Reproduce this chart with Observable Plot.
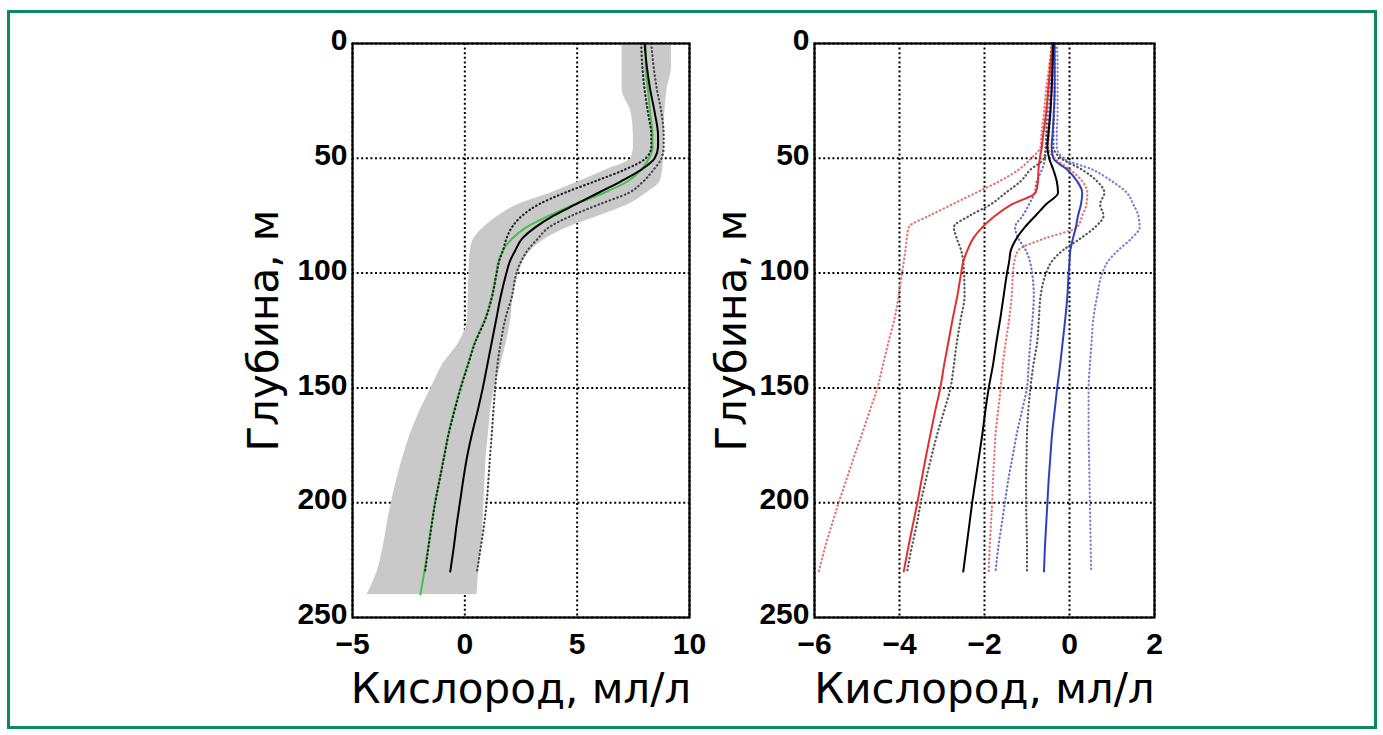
<!DOCTYPE html>
<html>
<head>
<meta charset="utf-8">
<script src="https://cdn.jsdelivr.net/npm/d3@7"></script>
<script src="https://cdn.jsdelivr.net/npm/@observablehq/plot@0.6"></script>
<style>
  html, body { margin: 0; padding: 0; background: #fff; }
  body { width: 1383px; height: 735px; position: relative; overflow: hidden; }
  #border { position: absolute; left: 7px; top: 10px; width: 1364px; height: 713px; border: 3px solid #0b8a61; }
  #left { position: absolute; left: 220px; top: 0; }
  #right { position: absolute; left: 690px; top: 0; }
  svg { overflow: visible; }
</style>
</head>
<body>
<div id="border"></div>
<div id="left"></div>
<div id="right"></div>
<script>
// ---------- shared ----------
const depthTicks = [0, 50, 100, 150, 200, 250];
const yLabel = "Глубина, м";
const xLabel = "Кислород, мл/л";

// ---------- left panel ----------
const leftXTicks = [-5, 0, 5, 10];
const depthL = [0, 10, 20, 30, 40, 45, 50, 55, 60, 65, 70, 75, 80, 85, 90, 95, 100, 110, 120, 130, 140, 150, 160, 170, 180, 190, 200, 210, 220, 230, 240];
const bandLo = [7.0, 7.0, 7.0, 7.4, 7.5, 7.5, 7.4, 6.3, 5.1, 3.85, 2.4, 1.5, 0.85, 0.4, 0.25, 0.2, 0.18, 0.15, 0.12, -0.25, -1.0, -1.5, -2.0, -2.42, -2.75, -3.03, -3.27, -3.47, -3.65, -3.9, -4.35];
const bandHi = [9.2, 9.2, 9.0, 8.9, 8.85, 8.85, 8.85, 8.8, 8.7, 8.1, 7.3, 6.0, 4.6, 3.6, 2.95, 2.6, 2.4, 2.15, 2.05, 1.85, 1.6, 1.32, 1.15, 1.05, 0.95, 0.9, 0.85, 0.8, 0.73, 0.62, 0.54];
const leftMean = [8.0, 8.1, 8.25, 8.45, 8.6, 8.6, 8.45, 7.85, 6.95, 5.95, 4.95, 3.95, 3.15, 2.55, 2.25, 2.0, 1.85, 1.6, 1.4, 1.2, 1.0, 0.8, 0.57, 0.32, 0.1, -0.07, -0.22, -0.37, -0.5, -0.65, null];
const leftGreen = [8.05, 8.05, 8.15, 8.25, 8.35, 8.35, 8.2, 7.85, 7.25, 6.2, 4.9, 3.75, 2.75, 2.1, 1.7, 1.5, 1.4, 1.2, 0.9, 0.45, 0.12, -0.2, -0.48, -0.73, -0.93, -1.13, -1.33, -1.49, -1.64, -1.8, -1.98];
const leftLower = [7.85, 7.9, 8.0, 8.15, 8.3, 8.3, 8.05, 7.1, 5.8, 4.45, 3.3, 2.55, 2.1, 1.85, 1.7, 1.52, 1.42, 1.22, 0.92, 0.47, 0.14, -0.18, -0.46, -0.72, -0.92, -1.12, -1.32, -1.48, -1.63, -1.77, null];
const leftUpper = [8.3, 8.4, 8.55, 8.75, 8.85, 8.85, 8.75, 8.4, 7.95, 7.3, 6.0, 4.75, 3.75, 3.25, 2.8, 2.5, 2.3, 2.1, 1.8, 1.6, 1.45, 1.35, 1.27, 1.2, 1.12, 1.05, 0.97, 0.85, 0.7, 0.54, null];

// ---------- right panel ----------
const rightXTicks = [-6, -4, -2, 0, 2];
const depthR = [0, 10, 20, 30, 40, 45, 50, 55, 60, 65, 70, 75, 80, 85, 90, 95, 100, 110, 120, 130, 140, 150, 160, 170, 180, 190, 200, 210, 220, 230];
const blackMean = [-0.38, -0.4, -0.42, -0.45, -0.5, -0.52, -0.48, -0.38, -0.3, -0.27, -0.55, -0.8, -1.05, -1.25, -1.38, -1.42, -1.47, -1.55, -1.63, -1.72, -1.8, -1.9, -1.98, -2.05, -2.13, -2.21, -2.29, -2.36, -2.43, -2.5];
const blackLower = [-0.42, -0.45, -0.5, -0.53, -0.55, -0.56, -0.6, -0.92, -1.15, -1.5, -1.85, -2.35, -2.72, -2.65, -2.55, -2.5, -2.48, -2.47, -2.56, -2.65, -2.72, -2.8, -2.95, -3.11, -3.25, -3.38, -3.5, -3.6, -3.72, -3.82];
const blackUpper = [-0.35, -0.35, -0.35, -0.36, -0.38, -0.38, -0.2, 0.3, 0.65, 0.82, 0.72, 0.8, 0.6, 0.25, -0.15, -0.42, -0.55, -0.68, -0.72, -0.76, -0.85, -0.92, -0.97, -1.0, -1.01, -1.02, -1.02, -1.01, -1.0, -1.0];
const redMean = [-0.4, -0.45, -0.5, -0.55, -0.62, -0.65, -0.7, -0.73, -0.74, -0.8, -1.35, -1.75, -2.05, -2.27, -2.4, -2.5, -2.55, -2.64, -2.75, -2.85, -2.95, -3.04, -3.16, -3.27, -3.38, -3.48, -3.58, -3.69, -3.8, -3.9];
const redLower = [-0.42, -0.48, -0.55, -0.6, -0.66, -0.68, -0.9, -1.2, -1.65, -2.2, -2.75, -3.3, -3.78, -3.83, -3.86, -3.9, -3.94, -4.02, -4.12, -4.26, -4.39, -4.52, -4.7, -4.88, -5.07, -5.25, -5.43, -5.6, -5.76, -5.9];
const redUpper = [-0.38, -0.4, -0.42, -0.45, -0.48, -0.5, -0.35, 0.02, 0.3, 0.42, 0.4, 0.3, 0.18, -0.6, -1.2, -1.3, -1.33, -1.36, -1.42, -1.5, -1.57, -1.62, -1.68, -1.74, -1.77, -1.8, -1.82, -1.85, -1.88, -1.9];
const blueMean = [-0.35, -0.35, -0.35, -0.37, -0.4, -0.42, -0.38, -0.05, 0.18, 0.3, 0.27, 0.2, 0.15, 0.08, 0.02, 0.0, -0.02, -0.05, -0.1, -0.16, -0.22, -0.29, -0.35, -0.41, -0.45, -0.49, -0.52, -0.55, -0.58, -0.6];
const blueLower = [-0.4, -0.42, -0.45, -0.48, -0.52, -0.55, -0.57, -0.65, -0.77, -0.82, -0.95, -1.1, -1.28, -1.2, -1.03, -0.93, -0.88, -0.84, -0.87, -0.92, -0.96, -1.0, -1.12, -1.24, -1.34, -1.44, -1.52, -1.6, -1.68, -1.74];
const blueUpper = [-0.3, -0.28, -0.28, -0.28, -0.3, -0.3, -0.15, 0.55, 1.0, 1.35, 1.5, 1.62, 1.65, 1.45, 1.15, 0.9, 0.77, 0.65, 0.56, 0.52, 0.48, 0.45, 0.45, 0.45, 0.46, 0.47, 0.48, 0.49, 0.5, 0.51];

// ---------- helpers ----------
function profile(depths, values) {
  return depths.map((d, i) => ({depth: d, value: values[i]})).filter(p => p.value != null);
}
const dotted = {strokeDasharray: "0.5,3.5", strokeLinecap: "round", strokeWidth: 2.2, curve: "monotone-y"};
const solid = {strokeWidth: 2, curve: "monotone-y"};
const tickFont = {fontFamily: "Liberation Sans, Arial, sans-serif", fontSize: 30, fontWeight: "bold"};
const labelFont = {fontFamily: "DejaVu Sans, sans-serif", fontSize: 42, fontWeight: "normal"};

function frameMarks(xTicks) {
  const g = {stroke: "#000", strokeOpacity: 1, strokeWidth: 2, strokeDasharray: "2,2.6"};
  return [Plot.gridX(xTicks, g), Plot.gridY(depthTicks, g)];
}
function axisMarks(xTicks, yLabelOffset) {
  return [
    Plot.axisX({ticks: xTicks, tickSize: 0, tickPadding: 15, label: null, ...tickFont}),
    Plot.axisY({ticks: depthTicks, tickSize: 0, tickPadding: 5, dy: -3, label: null, ...tickFont}),
    Plot.axisX({ticks: [], tickSize: 0, label: xLabel, labelAnchor: "center", labelOffset: 85, labelArrow: "none", ...labelFont}),
    Plot.axisY({ticks: [], tickSize: 0, label: yLabel, labelAnchor: "center", labelOffset: yLabelOffset, labelArrow: "none", ...labelFont}),
    Plot.frame({stroke: "#000", strokeWidth: 2.2})
  ];
}

// ---------- left plot ----------
const bandData = depthL.map((d, i) => ({depth: d, lo: bandLo[i], hi: bandHi[i]}));
const leftPlot = Plot.plot({
  width: 490, height: 720,
  marginLeft: 132, marginRight: 21, marginTop: 43, marginBottom: 103,
  style: {background: "transparent", color: "#000", overflow: "visible"},
  x: {domain: [-5, 10]},
  y: {domain: [0, 250], reverse: true},
  marks: [
    ...frameMarks(leftXTicks),
    Plot.areaX(bandData, {y: "depth", x1: "lo", x2: "hi", fill: "#c9c9c9", curve: "monotone-y"}),
    Plot.line(profile(depthL, leftUpper), {x: "value", y: "depth", stroke: "#444", ...dotted}),
    Plot.line(profile(depthL, leftGreen), {x: "value", y: "depth", stroke: "#44c244", ...solid}),
    Plot.line(profile(depthL, leftLower), {x: "value", y: "depth", stroke: "#222", ...dotted}),
    Plot.line(profile(depthL, leftMean), {x: "value", y: "depth", stroke: "#000", ...solid}),
    ...axisMarks(leftXTicks, 104)
  ]
});
document.getElementById("left").appendChild(leftPlot);

// ---------- right plot ----------
const rightPlot = Plot.plot({
  width: 490, height: 720,
  marginLeft: 124, marginRight: 26, marginTop: 43, marginBottom: 103,
  style: {background: "transparent", color: "#000", overflow: "visible"},
  x: {domain: [-6, 2]},
  y: {domain: [0, 250], reverse: true},
  marks: [
    ...frameMarks(rightXTicks),
    Plot.line(profile(depthR, redLower), {x: "value", y: "depth", stroke: "#e57575", ...dotted}),
    Plot.line(profile(depthR, redUpper), {x: "value", y: "depth", stroke: "#e57575", ...dotted}),
    Plot.line(profile(depthR, blueLower), {x: "value", y: "depth", stroke: "#6f6fcc", ...dotted}),
    Plot.line(profile(depthR, blueUpper), {x: "value", y: "depth", stroke: "#7d7dd2", ...dotted}),
    Plot.line(profile(depthR, blackLower), {x: "value", y: "depth", stroke: "#555", ...dotted}),
    Plot.line(profile(depthR, blackUpper), {x: "value", y: "depth", stroke: "#555", ...dotted}),
    Plot.line(profile(depthR, redMean), {x: "value", y: "depth", stroke: "#e23030", ...solid}),
    Plot.line(profile(depthR, blueMean), {x: "value", y: "depth", stroke: "#3040b8", ...solid}),
    Plot.line(profile(depthR, blackMean), {x: "value", y: "depth", stroke: "#000", ...solid}),
    ...axisMarks(rightXTicks, 98)
  ]
});
document.getElementById("right").appendChild(rightPlot);
</script>
</body>
</html>
